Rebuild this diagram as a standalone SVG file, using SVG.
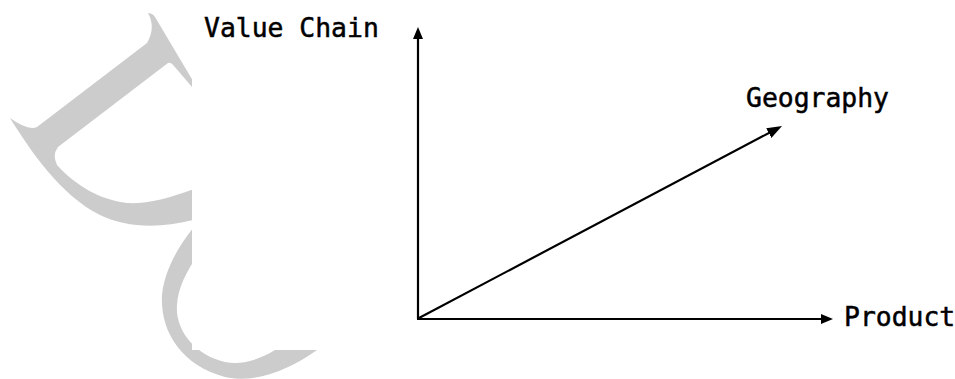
<svg xmlns="http://www.w3.org/2000/svg" width="955" height="379" viewBox="0 0 955 379">
<style>
.lbl{font-family:"DejaVu Sans Mono","Liberation Mono",monospace;font-size:26.4px;fill:#000;stroke:#000;stroke-width:0.5}
.ax{stroke:#000;stroke-width:2.2;fill:none}
.wm{fill:#cccccc;stroke:none}
</style>
<defs>
<marker id="ah" viewBox="0 0 12 10" refX="4" refY="5" markerWidth="12" markerHeight="10" markerUnits="userSpaceOnUse" orient="auto"><path d="M0,0L12,5L0,10z" fill="#000"/></marker>
<marker id="ah2" viewBox="0 0 15 11" refX="5" refY="5.5" markerWidth="15" markerHeight="11" markerUnits="userSpaceOnUse" orient="auto"><path d="M0,0L15,5.5L0,11z" fill="#000"/></marker>
<clipPath id="wmclip"><path d="M0,0H192V350H955V379H0Z"/></clipPath>
</defs>
<rect width="955" height="379" fill="#fff"/>
<g id="watermark" clip-path="url(#wmclip)">
<path class="wm" fill-rule="evenodd" d="M148,13 C151,13 153,14 155,17 L240,160 L240,200 C200,225 140,235 100,215 C60,195 30,150 10,118 Q28,131 37,127 L147,43 Q156,28 148,13 Z M168,63 Q171,62 174,66 L240,143 L240,170 C205,185 160,205 127,203 C100,200 75,185 57,165 Q52,155 58,147 Z"/>
<path class="wm" d="M205,215 C185,235 165,265 162,295 C160,330 180,365 225,377 C260,385 300,365 330,340 L300,330 C285,345 255,368 225,362 C195,355 175,330 177,305 C178,285 190,265 205,245 Z"/>
</g>
<g id="connectors">
<line class="ax" x1="418" y1="319" x2="418" y2="35" marker-end="url(#ah)"/>
<line class="ax" x1="417" y1="319" x2="825" y2="319" marker-end="url(#ah)"/>
<line class="ax" x1="419" y1="318" x2="773.2" y2="130.7" stroke-width="2.8" marker-end="url(#ah2)"/>
</g>
<g id="value-chain"><text class="lbl" x="204" y="37">Value Chain</text></g>
<g id="geography"><text class="lbl" x="746" y="107">Geography</text></g>
<g id="product"><text class="lbl" x="844" y="326">Product</text></g>
</svg>
